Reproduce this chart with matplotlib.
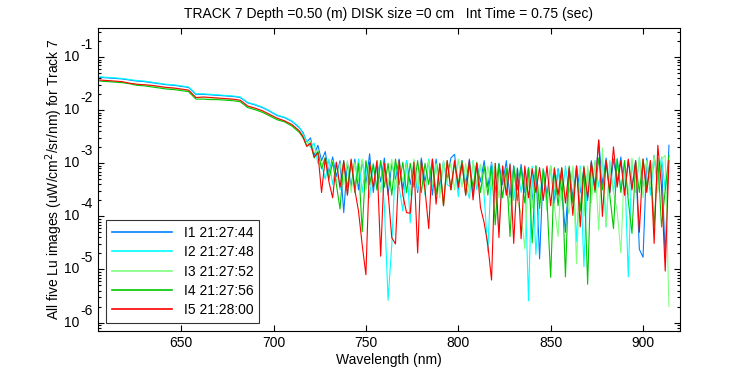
import numpy as np
import matplotlib
matplotlib.use("Agg")
import matplotlib.pyplot as plt

plt.rcParams['font.family'] = ['Liberation Sans', 'DejaVu Sans']

# wavelength grid: 4 nm in the smooth part, 2 nm in the noisy part
wl = np.r_[np.arange(606, 716, 4), np.arange(716, 915, 2)]

# log10 of Lu
i1_smooth = [-1.38, -1.39, -1.40, -1.41, -1.43, -1.45, -1.46, -1.48, -1.50, -1.52, -1.53, -1.55, -1.57, -1.70,
             -1.70, -1.71, -1.72, -1.73, -1.74, -1.76, -1.86, -1.90, -1.95, -2.02, -2.10, -2.14, -2.21, -2.33]
i2_smooth = [-1.37, -1.38, -1.39, -1.40, -1.42, -1.44, -1.45, -1.47, -1.49, -1.51, -1.52, -1.54, -1.56, -1.69,
             -1.69, -1.70, -1.71, -1.72, -1.73, -1.75, -1.85, -1.89, -1.94, -2.01, -2.09, -2.13, -2.20, -2.32]
i3_smooth = [-1.44, -1.45, -1.46, -1.47, -1.49, -1.51, -1.52, -1.54, -1.56, -1.58, -1.59, -1.61, -1.63, -1.76,
             -1.76, -1.77, -1.78, -1.79, -1.80, -1.82, -1.93, -1.97, -2.02, -2.09, -2.16, -2.21, -2.28, -2.40]
i4_smooth = [-1.45, -1.46, -1.47, -1.48, -1.50, -1.53, -1.54, -1.56, -1.58, -1.60, -1.61, -1.63, -1.65, -1.79,
             -1.79, -1.80, -1.80, -1.81, -1.82, -1.84, -1.95, -1.99, -2.04, -2.11, -2.18, -2.22, -2.30, -2.42]
i5_smooth = [-1.43, -1.44, -1.45, -1.46, -1.49, -1.51, -1.52, -1.53, -1.55, -1.57, -1.58, -1.60, -1.62, -1.76,
             -1.75, -1.76, -1.77, -1.78, -1.79, -1.81, -1.92, -1.96, -2.01, -2.08, -2.15, -2.20, -2.27, -2.39]

i1_noisy = [-2.42, -2.60, -2.52, -2.85, -2.66, -2.95, -2.78, -3.20, -2.88, -3.25,
            -2.95, -3.93, -2.98, -3.45, -2.92, -3.50, -2.95, -3.40, -2.82, -3.55,
            -2.98, -3.35, -2.90, -3.60, -3.00, -3.30, -2.92, -3.50, -2.95, -3.40,
            -3.00, -3.55, -2.90, -3.35, -2.95, -3.60, -2.92, -3.45, -2.98, -3.30,
            -2.90, -2.83, -3.50, -2.95, -3.40, -2.92, -3.60, -3.00, -3.35, -2.95,
            -3.45, -2.98, -3.55, -3.00, -3.40, -2.95, -3.65, -3.05, -3.50, -3.02,
            -3.55, -3.08, -3.70, -3.05, -4.80, -3.10, -3.60, -3.05, -3.75, -3.10,
            -3.50, -4.30, -3.08, -3.65, -3.05, -3.55, -3.10, -3.70, -2.95, -3.45,
            -2.56, -3.40, -2.90, -3.55, -2.92, -3.35, -2.88, -3.60, -2.95, -3.45,
            -2.95, -4.62, -4.77, -2.90, -3.50, -2.85, -3.40, -2.95, -4.76, -2.66]
i2_noisy = [-2.45, -2.58, -2.70, -2.62, -3.00, -3.03, -3.30, -2.92, -3.40, -2.98,
            -3.50, -2.95, -3.60, -3.00, -3.45, -2.92, -3.55, -2.98, -3.65, -3.00,
            -3.50, -2.95, -3.80, -5.58, -4.54, -2.98, -3.45, -3.90, -2.95, -4.12,
            -2.95, -3.50, -3.00, -3.60, -2.92, -3.45, -3.02, -3.55, -2.96, -3.40,
            -3.45, -2.95, -3.63, -2.98, -3.40, -3.66, -2.95, -3.50, -3.02, -3.60,
            -4.67, -3.00, -3.55, -4.29, -3.05, -3.60, -3.00, -3.70, -3.08, -3.55,
            -3.10, -5.59, -3.05, -4.72, -3.65, -3.10, -3.75, -3.08, -3.60, -3.12,
            -3.70, -3.05, -3.55, -3.10, -4.48, -3.05, -4.95, -3.10, -3.60, -2.95,
            -3.45, -2.92, -4.20, -2.95, -3.55, -2.90, -3.50, -3.00, -5.14, -2.95,
            -3.55, -2.90, -3.45, -2.95, -3.60, -2.92, -3.40, -2.88, -3.50, -2.95]
i3_noisy = [-2.50, -2.62, -2.58, -2.80, -2.75, -3.05, -2.88, -3.25, -2.95, -3.35,
            -3.00, -3.40, -2.95, -3.55, -2.98, -3.35, -2.92, -3.50, -3.00, -3.45,
            -2.95, -3.55, -3.00, -3.40, -2.92, -3.50, -2.98, -3.35, -3.02, -3.60,
            -2.92, -3.45, -2.98, -3.55, -2.95, -3.40, -3.00, -3.65, -2.95, -3.35,
            -3.00, -3.50, -2.92, -3.45, -3.00, -3.55, -2.95, -3.40, -3.02, -3.60,
            -3.05, -3.50, -3.00, -3.65, -3.05, -3.55, -3.80, -3.10, -3.70, -3.95,
            -4.61, -3.10, -3.85, -3.05, -3.75, -3.10, -3.90, -3.05, -3.80, -4.38,
            -3.10, -3.70, -3.95, -3.05, -4.89, -3.10, -4.00, -3.05, -3.75, -2.95,
            -4.26, -2.71, -4.20, -3.00, -3.55, -3.90, -4.69, -2.95, -3.60, -2.90,
            -3.50, -2.88, -3.65, -2.95, -3.45, -2.85, -3.55, -2.92, -2.85, -5.70]
i4_noisy = [-2.52, -2.68, -2.62, -2.90, -2.78, -3.10, -2.90, -3.30, -2.98, -3.40,
            -3.86, -2.98, -3.45, -2.95, -3.55, -3.00, -4.29, -2.95, -3.40, -3.02,
            -3.50, -2.95, -3.45, -3.00, -3.60, -2.92, -3.40, -2.98, -3.55, -3.00,
            -3.45, -2.95, -3.55, -3.00, -3.40, -2.92, -3.60, -3.02, -3.80, -2.95,
            -3.50, -3.00, -3.40, -2.95, -3.60, -3.02, -3.45, -2.98, -3.55, -3.05,
            -3.60, -3.05, -4.16, -3.02, -3.65, -3.10, -4.38, -3.05, -3.70, -3.08,
            -3.75, -3.10, -4.50, -3.05, -3.85, -3.12, -3.70, -5.15, -3.08, -3.80,
            -3.10, -5.14, -3.05, -3.75, -3.10, -3.90, -3.05, -5.28, -3.00, -3.55,
            -2.90, -3.50, -2.95, -3.60, -4.23, -2.92, -3.55, -2.95, -3.70, -4.32,
            -2.98, -3.55, -2.92, -3.45, -2.95, -4.20, -2.90, -4.20, -3.50, -2.85]
i5_noisy = [-2.50, -2.68, -2.62, -2.88, -2.80, -3.55, -2.90, -3.35, -3.65, -2.98,
            -3.45, -2.95, -3.60, -2.92, -3.50, -3.90, -4.54, -5.10, -2.98, -3.45,
            -2.95, -4.75, -3.00, -3.55, -4.40, -4.52, -2.95, -3.60, -3.93, -3.94,
            -2.98, -4.69, -2.95, -3.50, -4.23, -2.92, -3.77, -3.00, -3.80, -2.95,
            -3.50, -2.95, -3.45, -3.00, -3.60, -2.95, -3.69, -3.00, -3.83, -4.12,
            -4.54, -5.20, -3.00, -4.40, -3.05, -3.60, -3.02, -4.51, -3.10, -4.42,
            -3.05, -3.65, -3.10, -3.55, -3.08, -3.70, -3.05, -3.80, -3.10, -3.60,
            -3.08, -3.75, -3.10, -3.98, -3.05, -4.20, -3.08, -3.65, -2.98, -3.50,
            -2.56, -4.00, -2.95, -3.55, -2.69, -3.45, -2.95, -3.60, -2.92, -3.50,
            -2.95, -4.30, -2.92, -3.55, -2.95, -4.51, -2.66, -3.45, -5.03, -2.95]

labels = ['I1 21:27:44', 'I2 21:27:48', 'I3 21:27:52', 'I4 21:27:56', 'I5 21:28:00']
colors = ['#0080FF', '#00FFFF', '#80FF80', '#00C800', '#FF0000']
series = [i1_smooth + i1_noisy, i2_smooth + i2_noisy, i3_smooth + i3_noisy,
          i4_smooth + i4_noisy, i5_smooth + i5_noisy]

fig = plt.figure(figsize=(7.5, 3.75), dpi=100)
ax = fig.add_axes([98 / 750, 44 / 375, 582 / 750, 303 / 375])

for vals, c, lab in zip(series, colors, labels):
    ax.semilogy(wl, 10.0 ** np.array(vals), color=c, lw=0.8, label=lab)

ax.set_xlim(605, 920)
ax.set_ylim(10 ** -6.16, 10 ** -0.45)
ax.set_xticks([650, 700, 750, 800, 850, 900])

# MATLAB style tick labels: "10" with the exponent up and to the right
ax.set_yticks([10.0 ** k for k in range(-6, 0)])
ax.set_yticklabels([])
for k in range(-6, 0):
    ax.annotate('10', xy=(0, 10.0 ** k), xycoords=('axes fraction', 'data'),
                xytext=(-13.3, 0), textcoords='offset points', ha='right', va='center', fontsize=10)
    ax.annotate(str(k), xy=(0, 10.0 ** k), xycoords=('axes fraction', 'data'),
                xytext=(-12.6, 8.6), textcoords='offset points', ha='left', va='center', fontsize=10)

ax.tick_params(which='both', direction='in', top=True, right=True, labelsize=10, width=0.8)
ax.tick_params(which='major', length=4.3)
ax.tick_params(which='minor', length=2.2)
ax.tick_params(axis='x', which='minor', bottom=False, top=False)
for s in ax.spines.values():
    s.set_linewidth(0.8)

ax.set_title('TRACK 7 Depth =0.50 (m) DISK size =0 cm   Int Time = 0.75 (sec)', fontsize=10, pad=7)
ax.set_xlabel('Wavelength (nm)', fontsize=10, labelpad=2)
ax.set_ylabel('All five Lu images (uW/cm$^2$/sr/nm) for Track 7', fontsize=10, labelpad=20)

leg = ax.legend(loc='lower left', fontsize=10, fancybox=False, edgecolor='black',
                borderaxespad=0.6, handlelength=4.3, handletextpad=0.9, labelspacing=0.38)
leg.get_frame().set_linewidth(0.8)
for line in leg.get_lines():
    line.set_linewidth(1.2)

plt.savefig('out.png', dpi=100)
